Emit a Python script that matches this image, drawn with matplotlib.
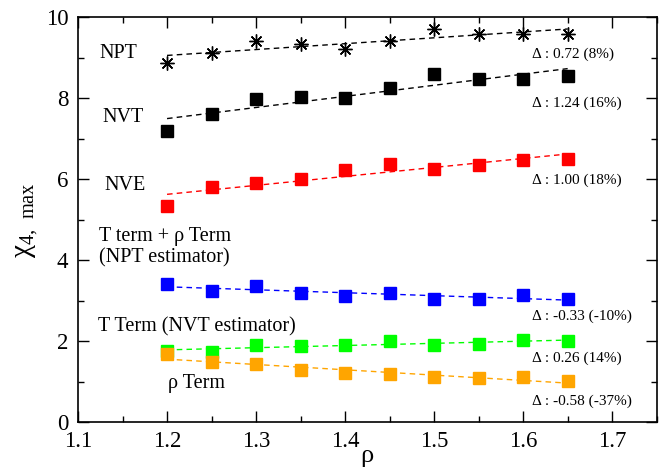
import numpy as np
import matplotlib
matplotlib.use("Agg")
import matplotlib.pyplot as plt
from matplotlib.ticker import MultipleLocator

plt.rcParams['font.family'] = ['Liberation Serif', 'DejaVu Serif']

rho = [1.20, 1.25, 1.30, 1.35, 1.40, 1.45, 1.50, 1.55, 1.60, 1.65]

# chi_4,max
npt = [8.87, 9.12, 9.42, 9.34, 9.22, 9.43, 9.72, 9.59, 9.59, 9.59]
nvt = [7.20, 7.62, 7.98, 8.04, 8.00, 8.25, 8.60, 8.48, 8.47, 8.56]
nve = [5.35, 5.82, 5.91, 6.00, 6.23, 6.38, 6.27, 6.36, 6.48, 6.51]
t_rho_term = [3.42, 3.25, 3.37, 3.19, 3.13, 3.20, 3.04, 3.05, 3.15, 3.05]
t_term = [1.77, 1.75, 1.91, 1.89, 1.91, 2.01, 1.91, 1.94, 2.03, 2.01]
rho_term = [1.68, 1.49, 1.44, 1.30, 1.21, 1.20, 1.12, 1.09, 1.12, 1.02]

series = [
    (npt, 'black', (8, 2, 0)),
    (nvt, 'black', 's'),
    (nve, '#ff0000', 's'),
    (t_rho_term, '#0000ff', 's'),
    (t_term, '#00ff00', 's'),
    (rho_term, '#ffa500', 's'),
]

# left labels: (text, x, y)
names = [
    ('NPT', 1.124, 9.12),
    ('NVT', 1.128, 7.52),
    ('NVE', 1.130, 5.84),
    ('T term + ρ Term', 1.124, 4.59),
    ('(NPT estimator)', 1.124, 4.07),
    ('T Term (NVT estimator)', 1.122, 2.36),
    ('ρ Term', 1.201, 0.96),
]

# change annotations on the right
deltas = ['Δ : 0.72 (8%)', 'Δ : 1.24 (16%)', 'Δ : 1.00 (18%)',
          'Δ : -0.33 (-10%)', 'Δ : 0.26 (14%)', 'Δ : -0.58 (-37%)']
delta_y = [9.10, 7.89, 5.97, 2.63, 1.59, 0.52]

fig = plt.figure(figsize=(6.69, 4.72), dpi=100)
ax = fig.add_axes([0.1166, 0.105, 0.865, 0.858])

x = np.array(rho)
for vals, col, mk in series:
    y = np.array(vals)
    a, b = np.polyfit(x, y, 1)
    ax.plot(x, a * x + b, color=col, lw=1.0, ls=(0, (4, 3)), zorder=2)
    if mk == 's':
        ax.plot(x, y, ls='none', marker='s', ms=8, color=col,
                mec=col, zorder=3)
    else:
        ax.plot(x, y, ls='none', marker=mk, ms=10, color=col, mew=1.0,
                zorder=3)
        ax.plot(x, y, ls='none', marker='o', ms=2.5, color=col, zorder=3)

for txt, tx, ty in names:
    ax.text(tx, ty, txt, fontsize=14.5, va='center', ha='left')

for txt, ty in zip(deltas, delta_y):
    ax.text(1.61, ty, txt, fontsize=11, va='center', ha='left')

ax.set_xlim(1.1, 1.75)
ax.set_ylim(0, 10)
ax.xaxis.set_major_locator(MultipleLocator(0.1))
ax.xaxis.set_minor_locator(MultipleLocator(0.05))
ax.yaxis.set_major_locator(MultipleLocator(2))
ax.yaxis.set_minor_locator(MultipleLocator(1))
ax.tick_params(which='both', direction='in', top=True, right=True,
               width=1.0, labelsize=16.5)
ax.tick_params(which='major', length=8)
ax.tick_params(which='minor', length=4.3)
ax.tick_params(axis='x', pad=6)
ax.tick_params(axis='y', pad=7)
ax.set_xticks(ax.get_xticks())
ax.set_xticklabels(['%.1f' % v for v in ax.get_xticks()])
ax.set_xlim(1.1, 1.75)
for s in ax.spines.values():
    s.set_linewidth(1.2)

ax.set_xlabel('ρ', fontsize=19, labelpad=-5)
ax.set_ylabel(r'$\mathregular{\chi_{4,\ max}}$', fontsize=21, labelpad=4)

fig.savefig('out.png', dpi=100)
